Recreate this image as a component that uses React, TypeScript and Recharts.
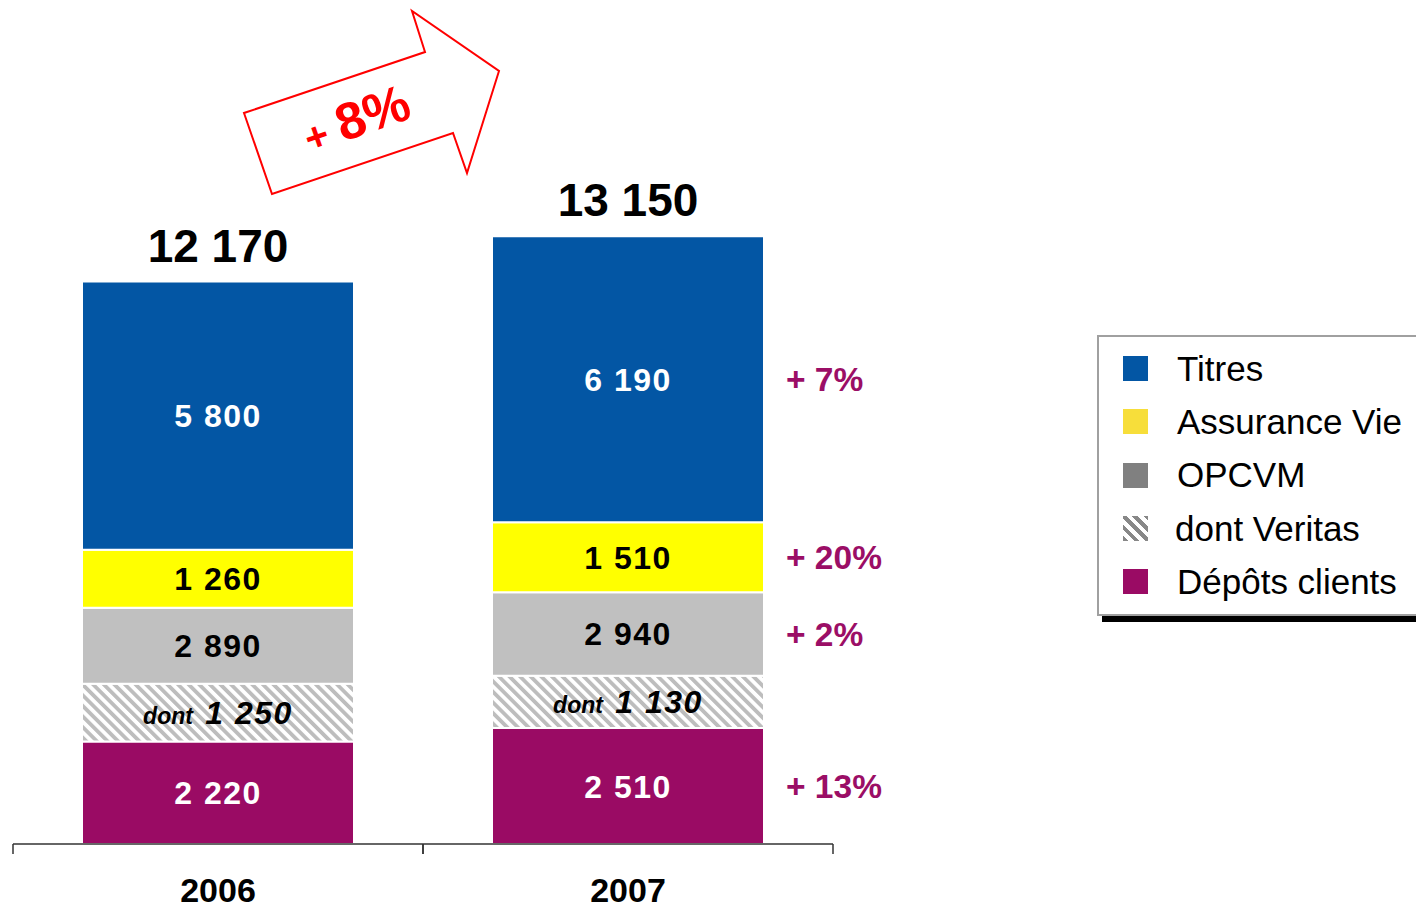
import React from 'react';
import { BarChart, Bar, XAxis, YAxis, LabelList, Legend } from 'recharts';

// ---- data ----
const years = ['2006', '2007'];
const depots = [2220, 2510];
const veritas = [1250, 1130];
const opcvm = [2890, 2940];
const assurance = [1260, 1510];
const titres = [5800, 6190];
const totals = [12170, 13150];
const growthTitres = ['', '+ 7%'];
const growthAssurance = ['', '+ 20%'];
const growthOpcvm = ['', '+ 2%'];
const growthDepots = ['', '+ 13%'];
const legendItems = ['Titres', 'Assurance Vie', 'OPCVM', 'dont Veritas', 'Dépôts clients'];

const data = years.map((year, i) => ({
  year,
  depots: depots[i],
  veritas: veritas[i],
  opcvmRest: opcvm[i] - veritas[i],
  opcvm: opcvm[i],
  assurance: assurance[i],
  titres: titres[i],
  total: totals[i],
  gTitres: growthTitres[i],
  gAssurance: growthAssurance[i],
  gOpcvm: growthOpcvm[i],
  gDepots: growthDepots[i],
}));

// ---- styles ----
const W = 1416;
const H = 910;
const M = { top: 100, right: 583, left: 13, bottom: 0 };
const XAXIS_H = 66;
const HALF_BAND = (W - M.left - M.right) / years.length / 2;
const FONT = '"Liberation Sans", Arial, Helvetica, sans-serif';
const C_BLUE = '#0356A4';
const C_YELLOW = '#FFFF00';
const C_GREY = '#C0C0C0';
const C_PURPLE = '#9A0B64';
const C_PCT = '#9B0E66';
const legendColors = ['#0356A4', '#F7DE3A', '#808080', 'hatch', '#9A0B64'];

const fmt = (n: number) => String(n).replace(/\B(?=(\d{3})+(?!\d))/g, ' ');

const segLabel = (color: string) => (props: any) => {
  const { x, y, width, height, value } = props;
  if (value === undefined || value === null) return null;
  return (
    <text
      x={Number(x) + Number(width) / 2}
      y={Number(y) + Number(height) / 2 + 11.5}
      textAnchor="middle"
      fill={color}
      fontFamily={FONT}
      fontWeight="bold"
      fontSize={32}
      letterSpacing={1.5}
    >
      {fmt(Number(value))}
    </text>
  );
};

const veritasLabel = (props: any) => {
  const { x, y, width, height, value } = props;
  return (
    <text
      x={Number(x) + Number(width) / 2}
      y={Number(y) + Number(height) / 2 + 11}
      textAnchor="middle"
      fill="#000"
      fontFamily={FONT}
      fontWeight="bold"
      fontStyle="italic"
    >
      <tspan fontSize={23}>dont </tspan>
      <tspan fontSize={32} letterSpacing={1.5} dx={6}>{fmt(Number(value))}</tspan>
    </text>
  );
};

const totalLabel = (props: any) => {
  const { x, y, width, value } = props;
  return (
    <text
      x={Number(x) + Number(width) / 2}
      y={Number(y) - 20}
      textAnchor="middle"
      fill="#000"
      fontFamily={FONT}
      fontWeight="bold"
      fontSize={46}
    >
      {fmt(Number(value))}
    </text>
  );
};

const growthLabel = (props: any) => {
  const { x, y, width, height, value } = props;
  if (!value) return null;
  return (
    <text
      x={Number(x) + Number(width) + 22}
      y={Number(y) + Number(height) / 2 + 12}
      textAnchor="start"
      fill={C_PCT}
      fontFamily={FONT}
      fontWeight="bold"
      fontSize={33.5}
    >
      {value}
    </text>
  );
};

const YearTick = (props: any) => {
  const { x, y, payload } = props;
  return (
    <g>
      <line x1={x - HALF_BAND} x2={x - HALF_BAND} y1={y} y2={y + 10} stroke="#333" strokeWidth={1.5} />
      <line x1={x + HALF_BAND} x2={x + HALF_BAND} y1={y} y2={y + 10} stroke="#333" strokeWidth={1.5} />
      <text x={x} y={y + 58} textAnchor="middle" fill="#000" fontFamily={FONT} fontWeight="bold" fontSize={34}>
        {payload.value}
      </text>
    </g>
  );
};

const LegendBox = () => (
  <div
    style={{
      width: 340,
      height: 281,
      boxSizing: 'border-box',
      border: '2px solid #a0a0a0',
      background: '#fff',
      boxShadow: '5px 6px 0 #000',
      paddingTop: 5,
      fontFamily: FONT,
    }}
  >
    {legendItems.map((name, i) => (
      <div key={name} style={{ display: 'flex', alignItems: 'center', height: 53.3 }}>
        <div
          style={{
            width: 25,
            height: 25,
            marginLeft: 24,
            background:
              legendColors[i] === 'hatch'
                ? 'repeating-linear-gradient(45deg, #888 0 4px, #fff 4px 8px)'
                : legendColors[i],
          }}
        />
        <div style={{ marginLeft: legendColors[i] === 'hatch' ? 27 : 29, fontSize: 35, color: '#000' }}>{name}</div>
      </div>
    ))}
  </div>
);

const Arrow = () => (
  <svg width={W} height={H} style={{ position: 'absolute', left: 0, top: 0, pointerEvents: 'none' }}>
    <polygon
      points="244,113 272,194 453,133 467,173 499,71 412,11 425,52"
      fill="#fff"
      stroke="#FF0000"
      strokeWidth={2}
      strokeLinejoin="miter"
    />
    <text
      x={358}
      y={136}
      textAnchor="middle"
      fill="#FF0000"
      fontFamily={FONT}
      fontWeight="bold"
      transform="rotate(-19 358 124)"
    >
      <tspan fontSize={40}>+ </tspan>
      <tspan fontSize={52}>8%</tspan>
    </text>
  </svg>
);

export default function App() {
  return (
    <div style={{ position: 'absolute', left: 0, top: 0, width: W, height: H, overflow: 'hidden', background: '#fff' }}>
      <svg width={0} height={0} style={{ position: 'absolute' }}>
        <defs>
          <pattern id="veritasHatch" patternUnits="userSpaceOnUse" width={7.5} height={7.5} patternTransform="rotate(-45)">
            <rect x={0} y={0} width={7.5} height={7.5} fill="#fff" />
            <rect x={0} y={0} width={3.8} height={7.5} fill="#BDBDBD" />
          </pattern>
        </defs>
      </svg>
      <BarChart width={W} height={H} data={data} margin={M} barSize={272}>
        <XAxis
          dataKey="year"
          height={XAXIS_H}
          axisLine={{ stroke: '#333', strokeWidth: 1.5 }}
          tickLine={false}
          tickSize={0}
          tickMargin={0}
          interval={0}
          tick={<YearTick />}
        />
        <YAxis hide domain={[0, 16100]} />
        <Legend
          layout="vertical"
          align="center"
          verticalAlign="middle"
          content={<LegendBox />}
          wrapperStyle={{ left: 1097, top: 335, width: 340, height: 285 }}
        />
        <Bar dataKey="depots" stackId="a" fill={C_PURPLE} stroke="#fff" strokeWidth={2} isAnimationActive={false}>
          <LabelList dataKey="depots" content={segLabel('#fff')} />
          <LabelList dataKey="gDepots" content={growthLabel} />
        </Bar>
        <Bar dataKey="veritas" stackId="a" fill="url(#veritasHatch)" stroke="#fff" strokeWidth={2} isAnimationActive={false}>
          <LabelList dataKey="veritas" content={veritasLabel} />
        </Bar>
        <Bar dataKey="opcvmRest" stackId="a" fill={C_GREY} stroke="#fff" strokeWidth={2} isAnimationActive={false}>
          <LabelList dataKey="opcvm" content={segLabel('#000')} />
          <LabelList dataKey="gOpcvm" content={growthLabel} />
        </Bar>
        <Bar dataKey="assurance" stackId="a" fill={C_YELLOW} stroke="#fff" strokeWidth={2} isAnimationActive={false}>
          <LabelList dataKey="assurance" content={segLabel('#000')} />
          <LabelList dataKey="gAssurance" content={growthLabel} />
        </Bar>
        <Bar dataKey="titres" stackId="a" fill={C_BLUE} stroke="#fff" strokeWidth={2} isAnimationActive={false}>
          <LabelList dataKey="titres" content={segLabel('#fff')} />
          <LabelList dataKey="gTitres" content={growthLabel} />
          <LabelList dataKey="total" content={totalLabel} />
        </Bar>
      </BarChart>
      <Arrow />
    </div>
  );
}
